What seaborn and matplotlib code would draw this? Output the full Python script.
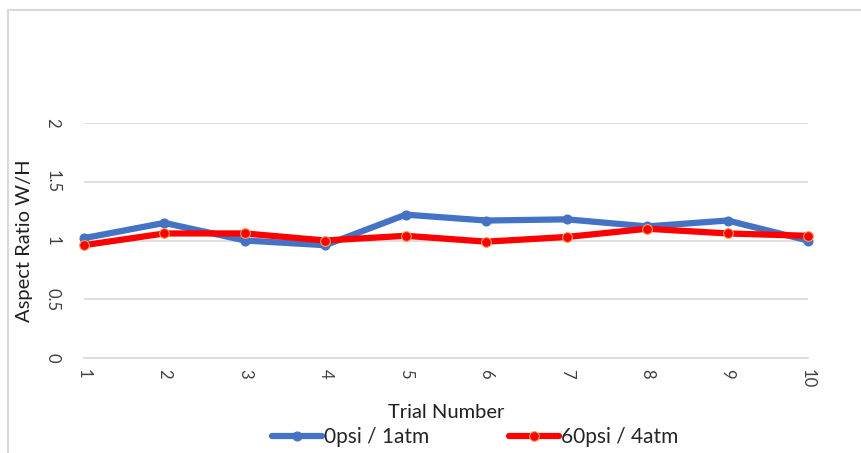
import matplotlib
matplotlib.use("Agg")
import matplotlib.pyplot as plt
import matplotlib.lines as mlines
import seaborn as sns
import pandas as pd

trials = [1, 2, 3, 4, 5, 6, 7, 8, 9, 10]
ratio_0psi = [1.02, 1.15, 1.00, 0.96, 1.22, 1.17, 1.18, 1.12, 1.17, 1.00]
ratio_60psi = [0.96, 1.06, 1.06, 1.00, 1.04, 0.99, 1.03, 1.10, 1.06, 1.04]
series_names = ["0psi / 1atm", "60psi / 4atm"]
y_ticks = [0, 0.5, 1, 1.5, 2]
y_tick_labels = ["0", "0.5", "1", "1.5", "2"]

sns.set_theme(style="white")
plt.rcParams["font.family"] = ["Lato", "DejaVu Sans"]

W, H = 862, 453
fig = plt.figure(figsize=(W / 100, H / 100), dpi=100)
ax = fig.add_axes([84 / W, 95 / H, 724 / W, 235 / H])

df0 = pd.DataFrame({"trial": trials, "ratio": ratio_0psi})
df1 = pd.DataFrame({"trial": trials, "ratio": ratio_60psi})

sns.lineplot(data=df0, x="trial", y="ratio", ax=ax, color="#4472C4",
             linewidth=4.5, marker="o", markersize=6.5,
             markeredgecolor="#4472C4", markerfacecolor="#4472C4",
             label=series_names[0], clip_on=False, zorder=3)
sns.lineplot(data=df1, x="trial", y="ratio", ax=ax, color="#FF0000",
             linewidth=4.5, marker="o", markersize=7,
             markeredgecolor="#F5A25A", markeredgewidth=0.8,
             markerfacecolor="#FF0000",
             label=series_names[1], clip_on=False, zorder=4)

ax.set_xlim(1, 10)
ax.set_ylim(0, 2)
ax.set_xticks(trials)
ax.set_xticklabels([str(t) for t in trials], rotation=-90, fontsize=12,
                   color="#404040")
ax.set_yticks(y_ticks)
ax.set_yticklabels(y_tick_labels, rotation=-90, fontsize=12,
                   color="#404040", va="center")
ax.tick_params(axis="both", length=0)
ax.tick_params(axis="x", pad=8)
ax.tick_params(axis="y", pad=17)

ax.grid(axis="y", color="#d9d9d9", linewidth=1.2)
ax.grid(axis="x", visible=False)
for s in ["top", "right", "left"]:
    ax.spines[s].set_visible(False)
ax.spines["bottom"].set_color("#d9d9d9")
ax.spines["bottom"].set_linewidth(1.2)

ax.set_xlabel("Trial Number", fontsize=14.5, color="#202020", labelpad=11)
ax.set_ylabel("Aspect Ratio W/H", fontsize=14.5, color="#202020", labelpad=8)

leg = ax.legend(loc="center", bbox_to_anchor=(475 / W, 16 / H),
                bbox_transform=fig.transFigure, ncol=2, frameon=False,
                fontsize=15, handlelength=2.4, handletextpad=0.1,
                columnspacing=3.8)

# outer chart frame (left and top edges)
fig.add_artist(mlines.Line2D([8.5 / W, 8.5 / W], [0, 1 - 9.5 / H],
                             transform=fig.transFigure, color="#d9d9d9",
                             linewidth=1.5))
fig.add_artist(mlines.Line2D([8.5 / W, 1], [1 - 9.5 / H, 1 - 9.5 / H],
                             transform=fig.transFigure, color="#d9d9d9",
                             linewidth=1.5))

fig.savefig("out.png", dpi=100, facecolor="white")
